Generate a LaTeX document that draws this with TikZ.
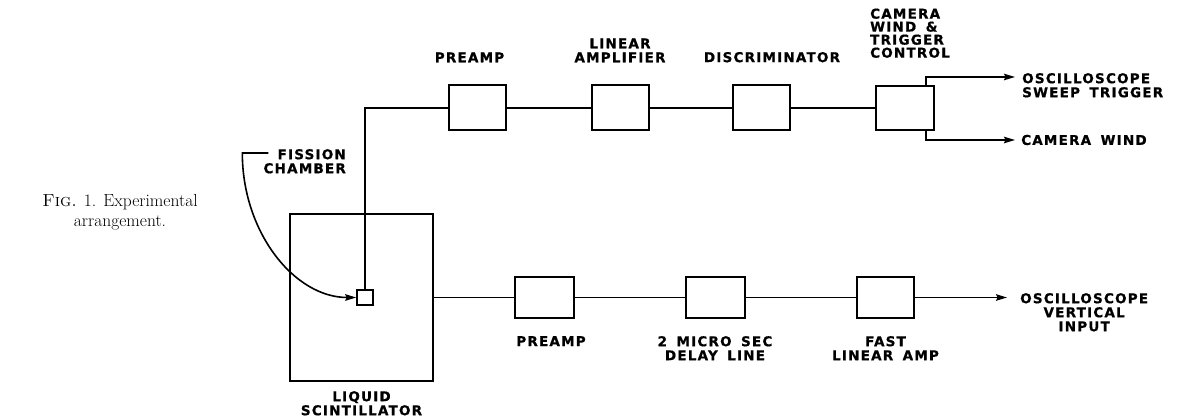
\documentclass[tikz,border=0pt]{standalone}
\usepackage{fontspec}
\usetikzlibrary{positioning, arrows.meta, calc}
\newfontfamily\lettering[LetterSpace=9, WordSpace=1.6, BoldFeatures={FakeBold=0.8}]{DejaVu Sans}
\tikzset{
  blk/.style={draw, line width=2pt, minimum width=57pt, minimum height=45pt,
              inner sep=0pt},
  lowblk/.style={blk, minimum width=59pt, minimum height=41pt},
  wire/.style={line width=1.6pt},
  arr/.style={wire, -{Stealth[length=11pt, width=6.5pt, inset=1.5pt]}},
  lbl/.style={font=\lettering\bfseries\fontsize{13.5}{14}\selectfont,
              align=center, inner sep=0pt},
}

\begin{document}
\begin{tikzpicture}[x=1pt, y=1pt]
  \useasboundingbox (0,0) rectangle (1180,419);

  % caption
  \node[font=\fontsize{17.5}{20}\selectfont, align=center] (caption) at (120,207)
       {\textsc{Fig.} 1. Experimental\\arrangement.};

  % scintillator with the fission chamber inside
  \node[blk, minimum width=143pt, minimum height=167pt] (scint) at (361.5,121.5) {};
  \node[blk, line width=1.6pt, minimum width=16pt, minimum height=15pt] (fc) at (365,121.5) {};
  \node[lbl, below=9pt of scint] (scintl) {LIQUID\\SCINTILLATOR};
  \node[lbl, align=right, anchor=north east] (fiss) at (346,270) {FISSION\\CHAMBER};
  \coordinate (fisslead) at ($(fiss.north west)+(5,-4)$);

  % upper chain
  \node[blk] (pre1) at (477.5,311) {};
  \node[blk] (lin)  at (620,311)   {};
  \node[blk] (disc) at (761,311)   {};
  \node[blk, minimum width=58pt, minimum height=44pt] (cam) at (905,311) {};
  \node[lbl, above=22pt of pre1, xshift=-8pt] (pre1l) {PREAMP};
  \node[lbl, above=22pt of lin]  (linl)  {LINEAR\\AMPLIFIER};
  \node[lbl, above=22pt of disc, xshift=11pt] (discl) {DISCRIMINATOR};
  \node[lbl, align=left, above=27pt of cam, xshift=5pt,
        font=\lettering\bfseries\fontsize{13.5}{13}\selectfont] (caml) {CAMERA\\WIND \&\\TRIGGER\\CONTROL};

  \coordinate (trigtip) at (1015,342);
  \coordinate (windtip) at (1015,279);
  \node[lbl, align=left, anchor=north west] (trig) at (1022,346) {OSCILLOSCOPE\\SWEEP TRIGGER};
  \node[lbl, anchor=west] (wind) at (1021,279) {CAMERA WIND};

  % lower chain
  \node[lowblk] (pre2)  at (544,121.5)   {};
  \node[lowblk] (delay) at (715,121.5)   {};
  \node[lowblk, minimum width=57pt] (fast) at (885.5,121.5) {};
  \node[lbl, below=17pt of pre2, xshift=7pt] (pre2l) {PREAMP};
  \node[lbl, below=17pt of delay] (delayl) {2 MICRO SEC\\DELAY LINE};
  \node[lbl, below=17pt of fast]  (fastl)  {FAST\\LINEAR AMP};

  \coordinate (verttip) at (1007,121.5);
  \node[lbl, anchor=north west] (vert) at (1020,126) {OSCILLOSCOPE\\VERTICAL\\INPUT};

  % connections
  \draw[wire] (fc.north) |- (pre1.west);
  \draw[wire] (pre1) -- (lin);
  \draw[wire] (lin) -- (disc);
  \draw[wire] (disc) -- (cam);
  \draw[arr] ([xshift=-9pt]cam.north east) |- (trigtip);
  \draw[arr] ([xshift=-9pt]cam.south east) |- (windtip);

  \draw[wire] (scint) -- (pre2);
  \draw[wire] (pre2) -- (delay);
  \draw[wire] (delay) -- (fast);
  \draw[arr] (fast) -- (verttip);

  \draw[arr] (fisslead) -- ++(-26,0) .. controls +(0,-79.5) and (294.6,121.5) .. (fc.west);
\end{tikzpicture}
\end{document}
